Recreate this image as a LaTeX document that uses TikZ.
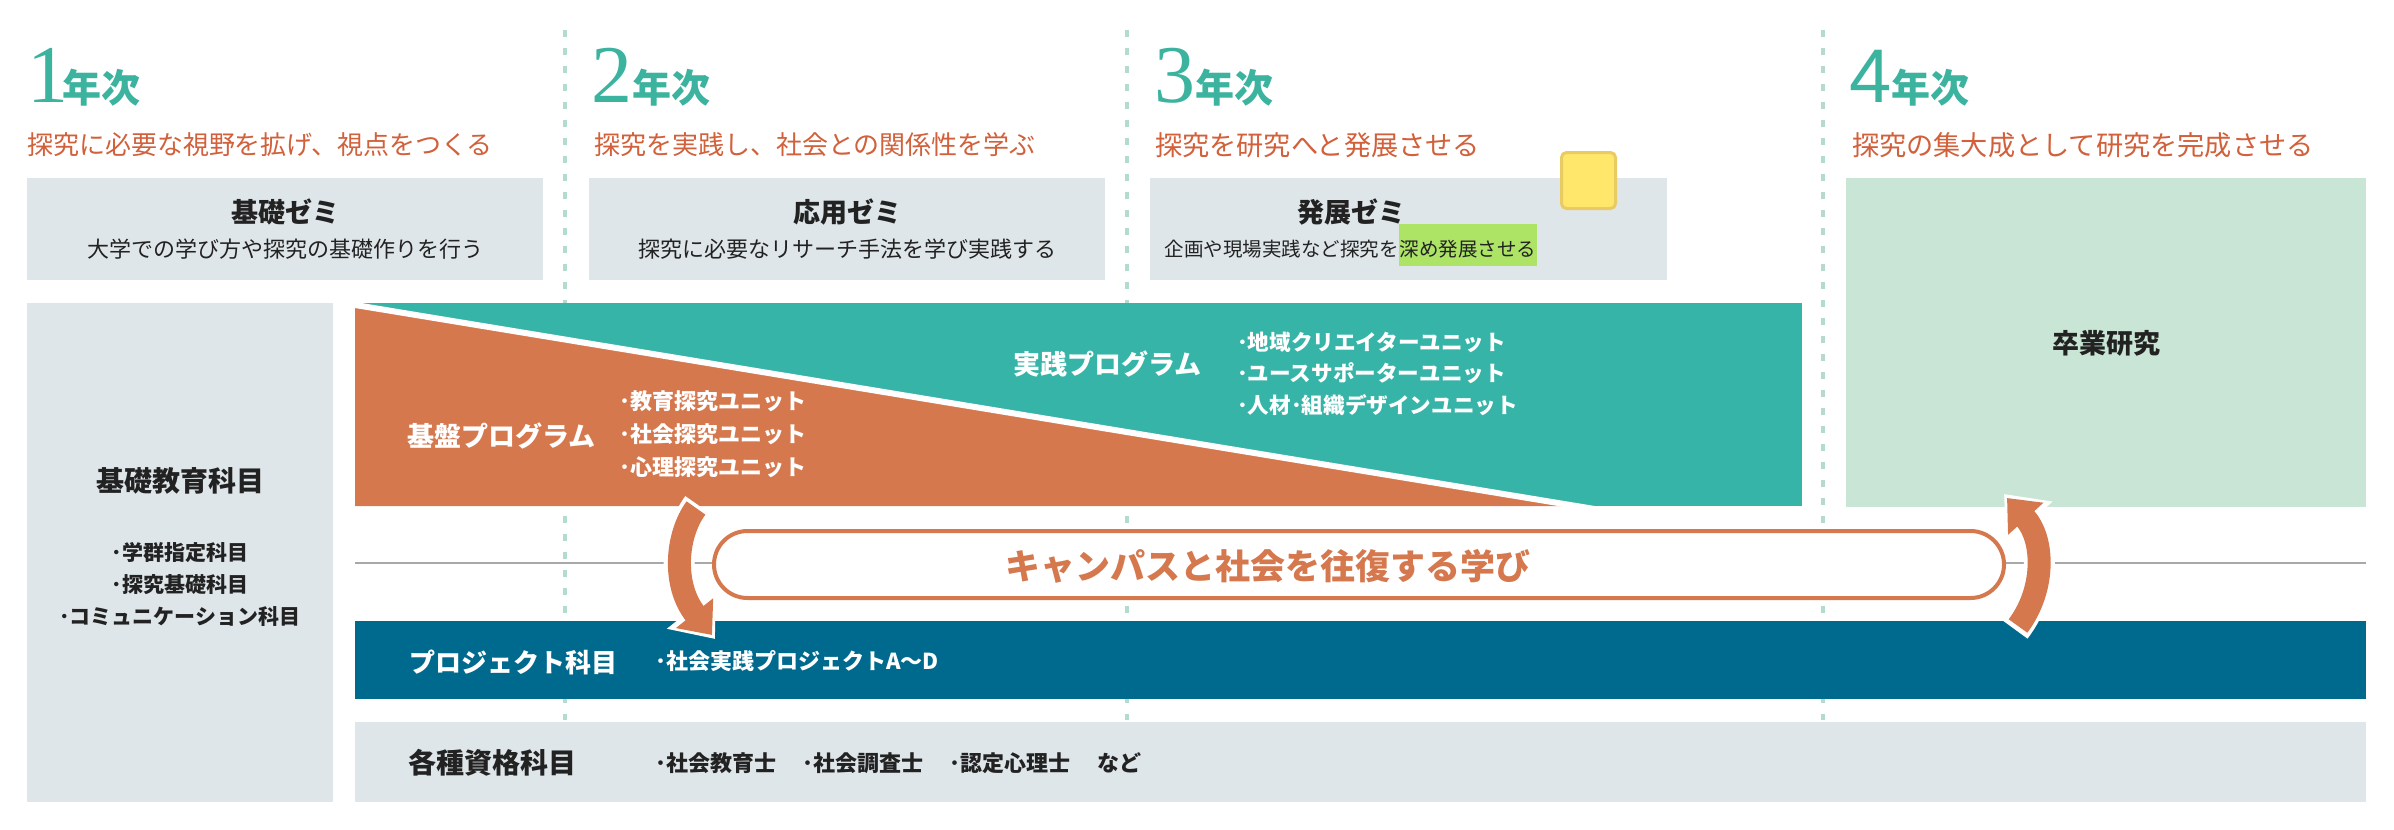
\documentclass[tikz,border=0pt]{standalone}
\usepackage{fontspec}
\setmainfont{Noto Sans CJK JP}
\newfontfamily\numf{Liberation Serif}
\newfontfamily\numsf{Liberation Sans}
\usetikzlibrary{arrows.meta}
\definecolor{yteal}{HTML}{3BB39F}
\definecolor{subor}{HTML}{D2603A}
\definecolor{boxgray}{HTML}{DFE6E9}
\definecolor{boxgreen}{HTML}{C9E5D5}
\definecolor{progteal}{HTML}{37B4A8}
\definecolor{progor}{HTML}{D6784E}
\definecolor{projblue}{HTML}{006A8E}
\definecolor{darktxt}{HTML}{222222}
\definecolor{gline}{HTML}{A8A8A8}
\definecolor{dashcol}{HTML}{B3DCCD}
\definecolor{hlgreen}{HTML}{ADE466}
\definecolor{stickyfill}{HTML}{FFE76C}
\definecolor{stickydraw}{HTML}{E8CB63}
\newcommand{\myfs}[1]{\fontsize{#1}{#1}\selectfont}
\tikzset{
  lbl/.style={inner sep=0pt, outer sep=0pt},
  yr/.style={lbl, anchor=base west, text=yteal, font=\bfseries\myfs{19.5pt}},
  subt/.style={lbl, anchor=west, text=subor},
  gbox/.style={lbl, fill=boxgray, draw=none},
  ttl/.style={lbl, text=darktxt, font=\bfseries\myfs{13.5pt}},
  desc/.style={lbl, text=darktxt, font=\myfs{11pt}},
  wttl/.style={lbl, anchor=west, text=white, font=\bfseries\myfs{13.5pt}},
  wlist/.style={lbl, anchor=west, text=white, align=left},
  dashln/.style={dashcol, line width=2pt, dash pattern=on 3.5pt off 5.5pt},
  glinest/.style={gline, line width=1pt},
  arrwhite/.style={white, line width=15.5pt, -{Triangle[length=19pt,width=30pt]}},
  arror/.style={progor, line width=11.5pt, -{Triangle[length=14pt,width=23pt]}},
}
\begin{document}
\begin{tikzpicture}[x=0.5pt,y=-0.5pt]
\useasboundingbox (0,0) rectangle (2394,830);
\fill[white] (0,0) rectangle (2394,830);

% dashed column separators
\foreach \x in {565,1127,1823} \draw[dashln] (\x,30) -- (\x,720);

% year headings
\node[yr] (y1) at (27,102) {{\numf\mdseries\myfs{41pt}1}\kern-3pt 年次};
\node[yr] (y2) at (591,102) {{\numf\mdseries\myfs{41pt}2}年次};
\node[yr] (y3) at (1154,102) {{\numf\mdseries\myfs{41pt}3}年次};
\node[yr] (y4) at (1849,102) {{\numsf\mdseries\myfs{38pt}4}年次};

% subtitles
\node[subt, font=\myfs{13pt}] (s1) at (27,145) {探究に必要な視野を拡げ、視点をつくる};
\node[subt, font=\myfs{13pt}] (s2) at (594,145) {探究を実践し、社会との関係性を学ぶ};
\node[subt, font=\myfs{13.6pt}] (s3) at (1155,145) {探究を研究へと発展させる};
\node[subt, font=\myfs{13.6pt}] (s4) at (1852,145) {探究の集大成として研究を完成させる};

% seminar boxes
\node[gbox, minimum width=258pt, minimum height=51pt] (b1) at (285,229) {};
\node[gbox, minimum width=258pt, minimum height=51pt] (b2) at (847,229) {};
\node[gbox, minimum width=258.5pt, minimum height=51pt] (b3) at (1408.5,229) {};
\node[ttl] (b1t) at (285,212) {基礎ゼミ};
\node[desc] (b1d) at (285,249) {大学での学び方や探究の基礎作りを行う};
\node[ttl] (b2t) at (847,212) {応用ゼミ};
\node[desc] (b2d) at (847,249) {探究に必要なリサーチ手法を学び実践する};
\node[ttl] (b3t) at (1351,212) {発展ゼミ};
\node[lbl, anchor=base, text=darktxt, font=\myfs{9.75pt}] (b3d) at (1351,256.5)
  {企画や現場実践など探究を{\setlength{\fboxsep}{0pt}\colorbox{hlgreen}{\rule[-4.8pt]{0pt}{21pt}\kern0.5pt 深め発展させる\kern0.5pt}}};

% sticky note
\node[lbl, fill=stickyfill, draw=stickydraw, line width=1.5pt, rounded corners=2.5pt,
      minimum width=27pt, minimum height=28pt] (sticky) at (1588.5,180.5) {};

% graduation research
\node[lbl, fill=boxgreen, minimum width=260pt, minimum height=164.5pt] (b4) at (2106,342.5) {};
\node[ttl] (b4t) at (2106,343) {卒業研究};

% basic education
\node[gbox, minimum width=153pt, minimum height=249.5pt] (lb) at (180,552.5) {};
\node[lbl, text=darktxt, font=\bfseries\myfs{14pt}] (lbt) at (180,481) {基礎教育科目};
\node[lbl, text=darktxt, font=\bfseries\fontsize{10.5pt}{16pt}\selectfont, align=center] (lbl1) at (180,584)
  {･学群指定科目\\･探究基礎科目\\･コミュニケーション科目};

% program block
\node[lbl, fill=progteal, minimum width=723.5pt, minimum height=101.5pt, anchor=north] (prog) at (1078.5,303) {};
\begin{scope}
  \clip (355,303) rectangle (1802,506);
  \fill[progor] (355,305) -- (1582,506) -- (355,506) -- cycle;
  \draw[white, line width=3pt] (340,302.5) -- (1600,509.9);
\end{scope}
\node[wttl] (kiban) at (407,436) {基盤プログラム};
\node[wlist, font=\bfseries\fontsize{11pt}{16.5pt}\selectfont] (kibanu) at (619,434)
  {･教育探究ユニット\\･社会探究ユニット\\･心理探究ユニット};
\node[wttl] (jissen) at (1013,364) {実践プログラム};
\node[wlist, font=\bfseries\fontsize{10.8pt}{15.75pt}\selectfont] (jissenu) at (1237,373.5)
  {･地域クリエイターユニット\\･ユースサポーターユニット\\･人材･組織デザインユニット};

% gray middle line
\coordinate (gl1) at (355,563);
\coordinate (gl2) at (2366,563);
\draw[glinest] (gl1) -- (gl2);

% pill
\node[lbl, fill=white, draw=progor, line width=2pt, rounded corners=16.75pt,
      minimum width=645pt, minimum height=33.5pt] (pill) at (1359,564.5) {};
\node[lbl, text=progor, font=\bfseries\myfs{17.5pt}] (pillt) at (1268,566) {キャンパスと社会を往復する学び};

% project bar
\node[lbl, fill=projblue, minimum width=1005.5pt, minimum height=39pt] (proj) at (1360.5,660) {};
\node[wttl, font=\bfseries\myfs{13pt}] (projt) at (409,662) {プロジェクト科目};
\node[wlist, font=\bfseries\myfs{11pt}] (projd) at (655,661) {･社会実践プロジェクトA～D};

% qualification bar
\node[gbox, minimum width=1005.5pt, minimum height=40pt] (qual) at (1360.5,762) {};
\node[lbl, anchor=west, text=darktxt, font=\bfseries\myfs{14pt}] (qualt) at (408,763) {各種資格科目};
\node[lbl, anchor=west, text=darktxt, font=\bfseries\myfs{11pt}] (quald) at (655,763)
  {･社会教育士\hspace{1.2em}･社会調査士\hspace{1.2em}･認定心理士\hspace{1.2em}など};

% curved arrows
\coordinate (la1) at (696,508);
\coordinate (la2) at (712,635);
\draw[arrwhite] (698,505) .. controls (676,535) and (672,585) .. (715,639);
\draw[arror] (la1) .. controls (676,535) and (672,585) .. (la2);
\coordinate (ra1) at (2018,626);
\coordinate (ra2) at (2007,498);
\draw[arrwhite] (2015,629.5) .. controls (2045,590) and (2045,540) .. (2004,494);
\draw[arror] (ra1) .. controls (2045,590) and (2045,540) .. (ra2);
\end{tikzpicture}
\end{document}
